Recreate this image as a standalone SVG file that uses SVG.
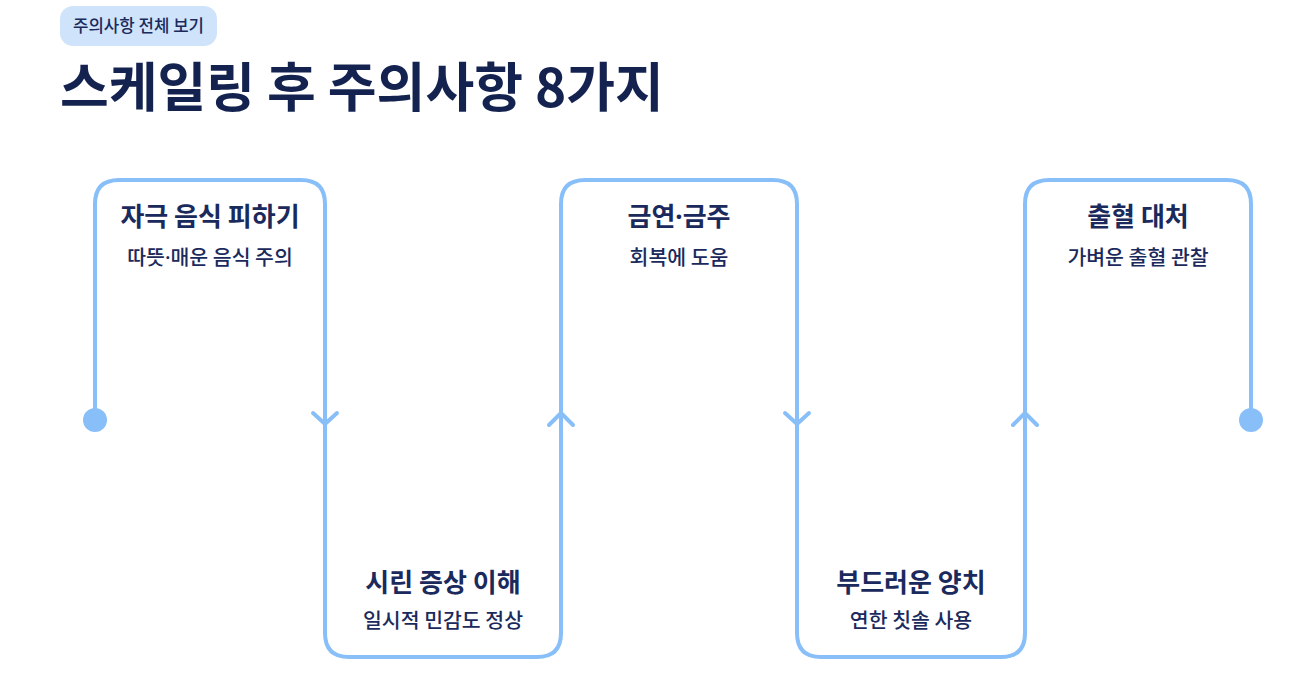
<svg xmlns="http://www.w3.org/2000/svg" width="1295" height="691" viewBox="0 0 1295 691">
<style>
.t{font-family:"Noto Sans CJK KR","Noto Sans",sans-serif;fill:#1b2a5c;text-anchor:middle}
.h{font-size:26px;font-weight:700}
.s{font-size:20.5px;font-weight:500}
.d{font-family:"Noto Sans",sans-serif}
.ln{fill:none;stroke:#89bff8;stroke-width:4;stroke-linecap:round;stroke-linejoin:round}
</style>
<rect width="1295" height="691" fill="#ffffff"/>
<g id="badge">
<rect x="60" y="6" width="157" height="40" rx="13" fill="#cfe3fb"/>
<text class="t" x="138.5" y="32" style="font-size:16.8px;font-weight:500">주의사항 전체 보기</text>
</g>
<g id="title">
<text x="60" y="107" style="font-family:'Noto Sans CJK KR','Noto Sans',sans-serif;font-size:53px;font-weight:700;fill:#14224f;letter-spacing:0px">스케일링 후 주의사항 8가지</text>
</g>
<g id="connectors">
<path class="ln" d="M95 420 V204 Q95 180 119 180 H301 Q325 180 325 204 V633 Q325 657 349 657 H537 Q561 657 561 633 V204 Q561 180 585 180 H773 Q797 180 797 204 V633 Q797 657 821 657 H1001 Q1025 657 1025 633 V204 Q1025 180 1049 180 H1227 Q1251 180 1251 204 V420"/>
<circle cx="95" cy="420" r="12" fill="#89bff8"/>
<circle cx="1251" cy="420" r="12" fill="#89bff8"/>
<path class="ln" d="M313 413 L325 424 L337 413"/>
<path class="ln" d="M549 425 L561 413 L573 425"/>
<path class="ln" d="M785 413 L797 424 L809 413"/>
<path class="ln" d="M1013 425 L1025 413 L1037 425"/>
</g>
<g id="step1">
<text class="t h" x="210" y="226">자극 음식 피하기</text>
<text class="t s" x="210" y="265">따뜻<tspan class="d">·</tspan>매운 음식 주의</text>
</g>
<g id="step2">
<text class="t h" x="443" y="592">시린 증상 이해</text>
<text class="t s" x="443" y="628">일시적 민감도 정상</text>
</g>
<g id="step3">
<text class="t h" x="679" y="226">금연<tspan class="d">·</tspan>금주</text>
<text class="t s" x="679" y="265">회복에 도움</text>
</g>
<g id="step4">
<text class="t h" x="911" y="592">부드러운 양치</text>
<text class="t s" x="911" y="628">연한 칫솔 사용</text>
</g>
<g id="step5">
<text class="t h" x="1138" y="226">출혈 대처</text>
<text class="t s" x="1138" y="265">가벼운 출혈 관찰</text>
</g>
</svg>
